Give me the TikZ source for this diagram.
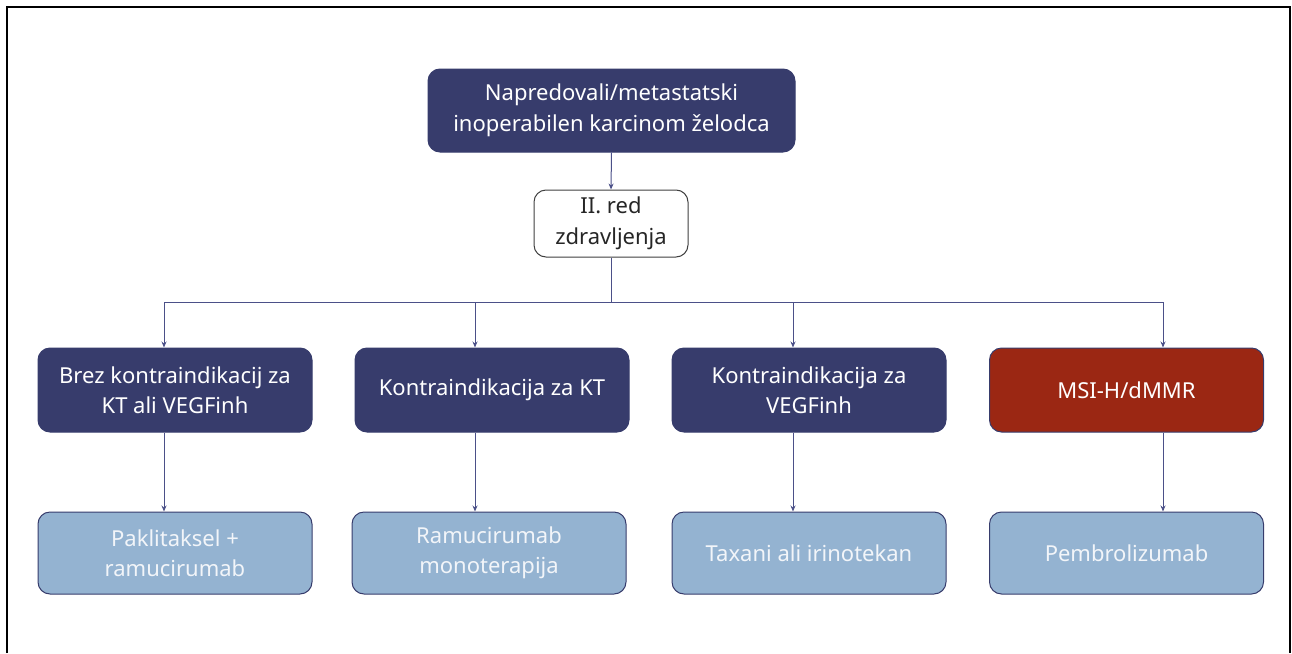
\documentclass[tikz,border=0pt]{standalone}
\usepackage{fontspec}
\setmainfont{Noto Sans}
\usetikzlibrary{arrows.meta}
\definecolor{navy}{HTML}{373C6C}
\definecolor{linec}{HTML}{4B5088}
\definecolor{redb}{HTML}{9B2713}
\definecolor{lightb}{HTML}{94B3D1}
\definecolor{lighttxt}{HTML}{F2F5F9}
\tikzset{
  box/.style={rounded corners=12pt, align=center, inner sep=0pt,
    font=\fontsize{22}{30.5}\selectfont, draw=navy, line width=1pt},
  darkbox/.style={box, fill=navy, text=white, minimum width=274pt, minimum height=84pt},
  redbox/.style={box, fill=redb, text=white, draw=navy, minimum width=274pt, minimum height=84pt},
  lightbox/.style={box, fill=lightb, text=lighttxt, minimum width=274pt, minimum height=82pt},
  conn/.style={draw=linec, line width=1pt},
  arr/.style={conn, -{Stealth[length=6pt,width=5pt]}},
}
\begin{document}
\begin{tikzpicture}[x=1pt,y=1pt]
\useasboundingbox (0,0) rectangle (1292,-653);
\draw[line width=1.6pt, black] (7,-653) -- (7,-7) -- (1290,-7) -- (1290,-653);
\node[darkbox, minimum width=367pt, minimum height=83pt] (top) at (611.5,-110.5) {Napredovali/metastatski\\inoperabilen karcinom želodca};
\node[box, fill=white, text=black!85, draw=black!75, minimum width=154pt, minimum height=67pt] (mid) at (611,-223.5) {II. red\\zdravljenja};
\node[darkbox] (d1) at (175,-390) {Brez kontraindikacij za\\KT ali VEGFinh};
\node[darkbox] (d2) at (492,-390) {Kontraindikacija za KT};
\node[darkbox] (d3) at (809,-390) {Kontraindikacija za\\VEGFinh};
\node[redbox] (d4) at (1126.5,-390) {MSI-H/dMMR};
\node[lightbox] (l1) at (175,-553) {Paklitaksel +\\ramucirumab};
\node[lightbox] (l2) at (489,-553) {Ramucirumab\\monoterapija};
\node[lightbox] (l3) at (809,-553) {Taxani ali irinotekan};
\node[lightbox] (l4) at (1126.5,-553) {Pembrolizumab};
\coordinate (bus) at (611,-302);
\coordinate (b1) at (164,-302);
\coordinate (b2) at (475,-302);
\coordinate (b3) at (793,-302);
\coordinate (b4) at (1163,-302);
\draw[arr] (top.south) -- (mid.north);
\draw[conn] (mid.south) -- (bus);
\draw[conn] (b1) -- (b4);
\foreach \i in {1,2,3,4}{
  \draw[arr] (b\i) -- (b\i |- d\i.north);
  \draw[arr] (b\i |- d\i.south) -- (b\i |- l\i.north);
}
\end{tikzpicture}
\end{document}
